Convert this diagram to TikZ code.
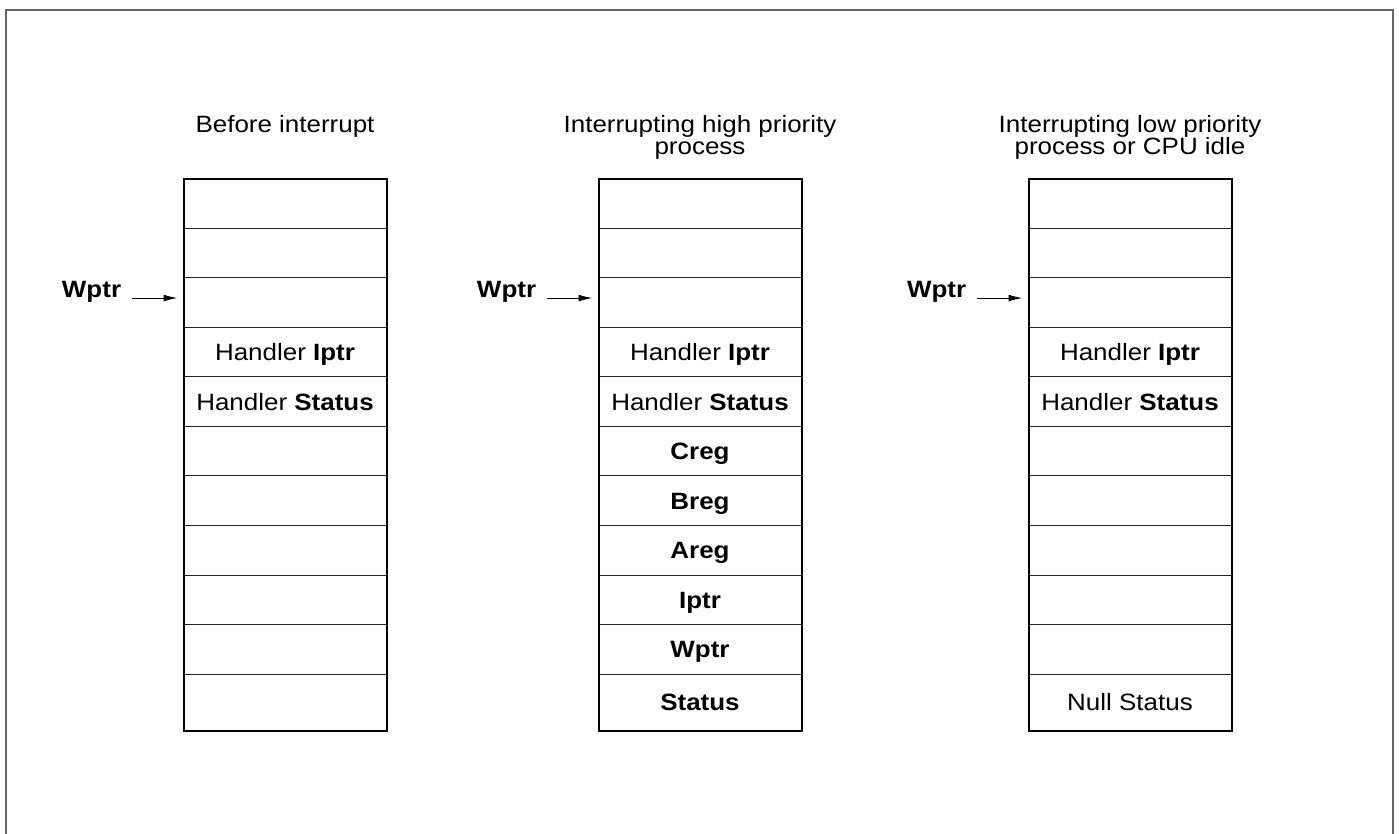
\documentclass[tikz,border=0pt]{standalone}
\usepackage{fontspec}
\setmainfont{Liberation Sans}[FakeStretch=1.1]
\usetikzlibrary{
    positioning, % posicionamento relativo
    arrows.meta  % pontas de seta
}

\begin{document}
\begin{tikzpicture}[x=0.5pt, y=-0.5pt] % 1 unidade = 1 pixel da figura

    % --- Estilos ---
    \tikzset{
        % celula da pilha
        cell_box/.style={
            draw=black!85,
            line width=0.5pt,
            rectangle,
            minimum width=101.5pt,
            minimum height=24.75pt,
            inner sep=0pt,
            outer sep=0pt,
            text height=8.4pt,
            text depth=0pt,
            font=\fontsize{11.8pt}{10pt}\selectfont
        },
        last_box/.style={cell_box, minimum height=28.5pt},
        stack_frame/.style={draw=black, line width=1pt},
        title_text/.style={
            anchor=north,
            align=center,
            inner sep=0pt,
            font={\fontsize{11.8pt}{10.8pt}\selectfont\lineskiplimit -10pt\relax}
        },
        ptr_label/.style={
            inner sep=0pt,
            text height=8.4pt,
            text depth=0pt,
            font=\fontsize{11.8pt}{10pt}\selectfont\bfseries
        },
        ptr_arrow/.style={
            -{Latex[length=7pt, width=3.4pt]},
            line width=0.5pt,
            shorten <=5pt,
            shorten >=3pt
        },
        frame_line/.style={draw=black!60, line width=0.7pt}
    }

    \useasboundingbox (0,0) rectangle (1399,834);
    \draw[frame_line] (6,834) |- (1393,10) -- (1393,834);

    % --- Titulos ---
    \node[title_text] (titleA) at (285,115) {Before interrupt};
    \node[title_text] (titleB) at (700,115) {Interrupting high priority\\process};
    \node[title_text] (titleC) at (1130,115) {Interrupting low priority\\process or CPU idle};

    % --- Pilha 1: antes da interrupcao ---
    \foreach \txt [count=\i] in {{}, {}, {}, {Handler \textbf{Iptr}}, {Handler \textbf{Status}}, {}, {}, {}, {}, {}}
        \node[cell_box, anchor=north] (a\i) at (285,{179+(\i-1)*49.5}) {\txt};
    \node[last_box, below=0pt of a10] (a11) {};
    \draw[stack_frame] (a1.north west) rectangle (a11.south east);

    % --- Pilha 2: processo de alta prioridade ---
    \foreach \txt [count=\i] in {{}, {}, {}, {Handler \textbf{Iptr}}, {Handler \textbf{Status}}, \textbf{Creg}, \textbf{Breg}, \textbf{Areg}, \textbf{Iptr}, \textbf{Wptr}}
        \node[cell_box, anchor=north] (b\i) at (700,{179+(\i-1)*49.5}) {\txt};
    \node[last_box, below=0pt of b10] (b11) {\textbf{Status}};
    \draw[stack_frame] (b1.north west) rectangle (b11.south east);

    % --- Pilha 3: baixa prioridade ou CPU ociosa ---
    \foreach \txt [count=\i] in {{}, {}, {}, {Handler \textbf{Iptr}}, {Handler \textbf{Status}}, {}, {}, {}, {}, {}}
        \node[cell_box, anchor=north] (c\i) at (1130,{179+(\i-1)*49.5}) {\txt};
    \node[last_box, below=0pt of c10] (c11) {Null Status};
    \draw[stack_frame] (c1.north west) rectangle (c11.south east);

    % --- Ponteiros Wptr ---
    \node[ptr_label, left=31pt of a3.west, yshift=6.75pt] (wptrA) {Wptr};
    \node[ptr_label, left=31pt of b3.west, yshift=6.75pt] (wptrB) {Wptr};
    \node[ptr_label, left=31pt of c3.west, yshift=6.75pt] (wptrC) {Wptr};

    \draw[ptr_arrow] (wptrA.south east) -- (wptrA.south east -| a3.west);
    \draw[ptr_arrow] (wptrB.south east) -- (wptrB.south east -| b3.west);
    \draw[ptr_arrow] (wptrC.south east) -- (wptrC.south east -| c3.west);

\end{tikzpicture}
\end{document}
